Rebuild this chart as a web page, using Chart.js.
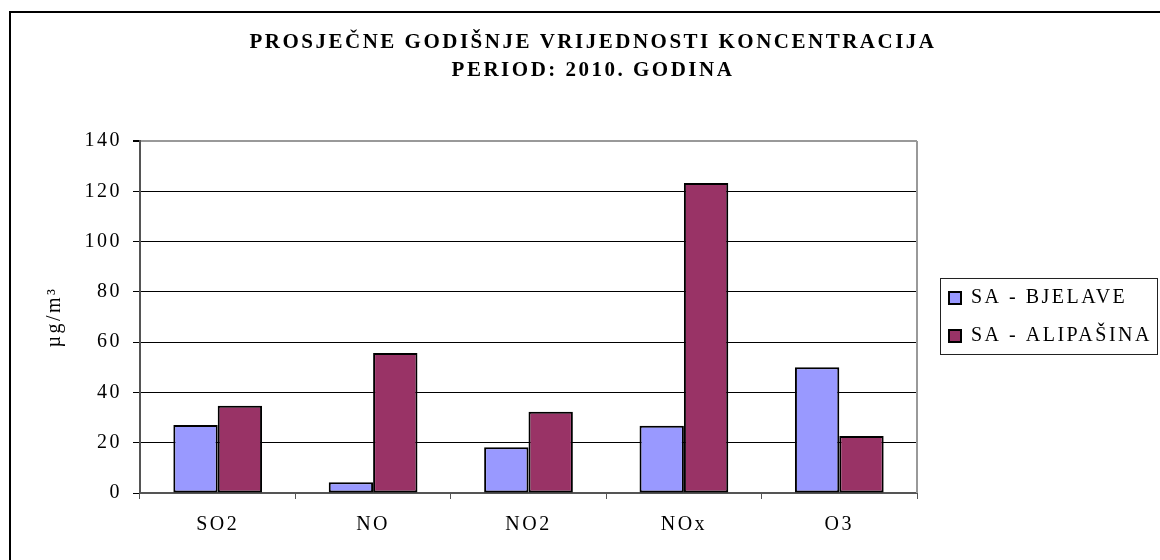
<!DOCTYPE html>
<html>
<head>
<meta charset="utf-8">
<script src="https://cdn.jsdelivr.net/npm/chart.js@4"></script>
<style>
  html, body { margin: 0; padding: 0; background: #fff; }
  #wrap { width: 1160px; height: 560px; }
</style>
</head>
<body>
<div id="wrap"><canvas id="chart" width="1160" height="560"></canvas></div>
<script>
// ---- data ----
const categories = ["SO2", "NO", "NO2", "NOx", "O3"];
const seriesNames = ["SA - BJELAVE", "SA - ALIPAŠINA"];
const bjelave = [27, 4.3, 18.2, 26.7, 50];
const alipasina = [34.7, 55.7, 32.3, 123.3, 22.7];
const yTicks = [0, 20, 40, 60, 80, 100, 120, 140];
const titleLines = ["PROSJEČNE GODIŠNJE VRIJEDNOSTI KONCENTRACIJA", "PERIOD: 2010. GODINA"];
const yTitle = "µg/m³";

const serif = "'Liberation Serif', 'Times New Roman', serif";
const textSpacing = "2.5px";   // the original text is set loosely

/* letter spacing, outer frame, plot border, legend box */
const decorations = {
    id: "decorations",
    beforeUpdate(chart) {
        chart.ctx.letterSpacing = textSpacing;
    },
    afterLayout(chart) {
        // legend sits just right of the plot and runs to the edge, like the original
        const lg = chart.legend;
        lg.left = chart.chartArea.right + 14;
        lg.right = chart.width - 2;
        lg.width = lg.right - lg.left;
    },
    beforeDraw(chart) {
        const ctx = chart.ctx;
        ctx.letterSpacing = textSpacing;
        ctx.save();
        ctx.fillStyle = "#fff";
        ctx.fillRect(0, 0, chart.width, chart.height);
        ctx.strokeStyle = "#000";
        ctx.lineWidth = 2;
        ctx.beginPath();
        ctx.moveTo(10, chart.height);
        ctx.lineTo(10, 12);
        ctx.lineTo(chart.width, 12);
        ctx.stroke();
        ctx.restore();
    },
    afterDraw(chart) {
        const ctx = chart.ctx;
        const a = chart.chartArea;
        ctx.save();
        ctx.strokeStyle = "#999";
        ctx.lineWidth = 2;
        ctx.beginPath();
        ctx.moveTo(a.right, a.top);
        ctx.lineTo(a.right, a.bottom);
        ctx.stroke();
        const hits = chart.legend.legendHitBoxes;
        if (hits && hits.length) {
            const last = hits[hits.length - 1];
            const top = hits[0].top - 10;
            const bottom = last.top + last.height + 8;
            const left = hits[0].left - 9;
            ctx.strokeStyle = "#222";
            ctx.lineWidth = 1;
            ctx.strokeRect(left + 0.5, top + 0.5, chart.width - left - 3, bottom - top);
        }
        ctx.restore();
    }
};

new Chart(document.getElementById("chart"), {
    type: "bar",
    data: {
        labels: categories,
        datasets: [
            {
                label: seriesNames[0],
                data: bjelave,
                backgroundColor: "#9999ff",
                borderColor: "#000",
                borderWidth: 2,
                borderSkipped: false,
                categoryPercentage: 0.571,
                barPercentage: 1
            },
            {
                label: seriesNames[1],
                data: alipasina,
                backgroundColor: "#993366",
                borderColor: "#000",
                borderWidth: 2,
                borderSkipped: false,
                categoryPercentage: 0.571,
                barPercentage: 1
            }
        ]
    },
    options: {
        responsive: false,
        animation: false,
        layout: { padding: { top: 16, left: 26, right: 0, bottom: 0 } },
        plugins: {
            title: {
                display: true,
                text: titleLines,
                color: "#000",
                font: { family: serif, size: 21, weight: "bold", lineHeight: 1.333 },
                padding: { top: 13, bottom: 56 }
            },
            legend: {
                position: "right",
                align: "center",
                fullSize: false,
                labels: {
                    color: "#000",
                    font: { family: serif, size: 20 },
                    boxWidth: 12,
                    boxHeight: 12,
                    padding: 18
                }
            },
            tooltip: { enabled: false }
        },
        scales: {
            x: {
                grid: {
                    offset: true,
                    drawOnChartArea: false,
                    drawTicks: true,
                    tickLength: 6,
                    color: "#555"
                },
                border: { color: "#555", width: 2 },
                ticks: {
                    color: "#000",
                    font: { family: serif, size: 20 },
                    padding: 14
                },
                afterFit: s => { s.height = 67; }
            },
            y: {
                min: 0,
                max: 140,
                afterBuildTicks: s => { s.ticks = yTicks.map(v => ({ value: v })); },
                grid: {
                    color: ctx => (ctx.tick && ctx.tick.value === 140 ? "#999" : "#000"),
                    lineWidth: ctx => (ctx.tick && ctx.tick.value === 140 ? 2 : 1),
                    tickColor: "#000",
                    tickLength: 7
                },
                border: { color: "#555", width: 2 },
                ticks: {
                    color: "#000",
                    font: { family: serif, size: 20 },
                    padding: 11
                },
                title: {
                    display: true,
                    text: yTitle,
                    color: "#000",
                    font: { family: serif, size: 20 },
                    padding: { top: 17, bottom: 0 }
                },
                afterFit: s => { s.width = 114; }
            },
            // empty spacer between plot and legend
            gap: {
                type: "linear",
                position: "right",
                display: true,
                grid: { display: false },
                ticks: { display: false },
                border: { display: false },
                afterFit: s => { s.width = 54; }
            }
        }
    },
    plugins: [decorations]
});
</script>
</body>
</html>
